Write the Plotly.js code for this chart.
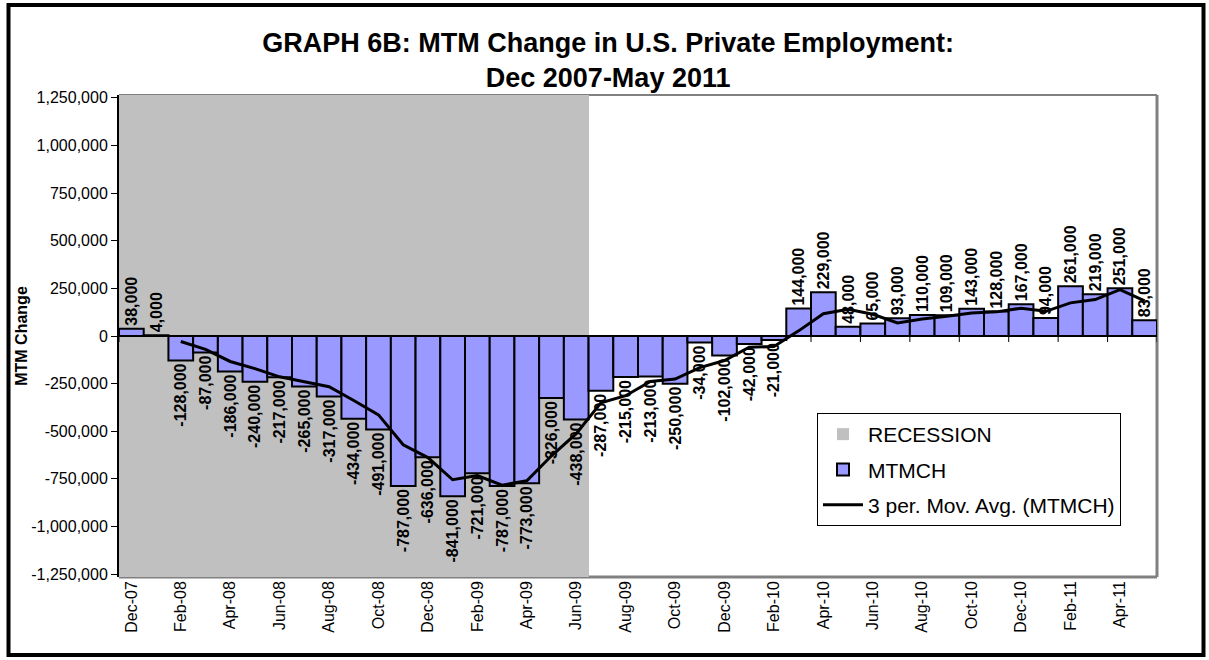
<!DOCTYPE html>
<html>
<head>
<meta charset="utf-8">
<script src="https://cdn.plot.ly/plotly-3.0.1.min.js"></script>
<style>
  html, body { margin: 0; padding: 0; background: #ffffff; }
  #chart { width: 1209px; height: 660px; }
</style>
</head>
<body>
<div id="chart"></div>
<script>
const categories = [
  'Dec-07',
  'Jan-08','Feb-08','Mar-08','Apr-08','May-08','Jun-08','Jul-08','Aug-08','Sep-08','Oct-08','Nov-08','Dec-08',
  'Jan-09','Feb-09','Mar-09','Apr-09','May-09','Jun-09','Jul-09','Aug-09','Sep-09','Oct-09','Nov-09','Dec-09',
  'Jan-10','Feb-10','Mar-10','Apr-10','May-10','Jun-10','Jul-10','Aug-10','Sep-10','Oct-10','Nov-10','Dec-10',
  'Jan-11','Feb-11','Mar-11','Apr-11','May-11'
];

const mtmch = [
  38000,
  4000, -128000, -87000, -186000, -240000, -217000, -265000, -317000, -434000, -491000, -787000, -636000,
  -841000, -721000, -787000, -773000, -326000, -438000, -287000, -215000, -213000, -250000, -34000, -102000,
  -42000, -21000, 144000, 229000, 48000, 65000, 93000, 110000, 109000, 143000, 128000, 167000,
  94000, 261000, 219000, 251000, 83000
];

const movAvg = [
  null,
  null, -28667, -70333, -133667, -171000, -214333, -240667, -266333, -338667, -414000, -570667, -638000,
  -754667, -732667, -783000, -760333, -628667, -512333, -350333, -313333, -238333, -226000, -165667, -128667,
  -59333, -55000, 27000, 117333, 140333, 114000, 68667, 89333, 104000, 120667, 126667, 146000,
  129667, 174000, 191333, 243667, 184333
];

const recession = [
  1,
  1, 1, 1, 1, 1, 1, 1, 1, 1, 1, 1, 1,
  1, 1, 1, 1, 1, 1, 0, 0, 0, 0, 0, 0,
  0, 0, 0, 0, 0, 0, 0, 0, 0, 0, 0, 0,
  0, 0, 0, 0, 0
];

const xTickLabels = [
  'Dec-07','Feb-08','Apr-08','Jun-08','Aug-08','Oct-08','Dec-08','Feb-09','Apr-09','Jun-09','Aug-09',
  'Oct-09','Dec-09','Feb-10','Apr-10','Jun-10','Aug-10','Oct-10','Dec-10','Feb-11','Apr-11'
];

const yTickVals = [-1250000, -1000000, -750000, -500000, -250000, 0, 250000, 500000, 750000, 1000000, 1250000];
const yTickLabels = ['-1,250,000','-1,000,000','-750,000','-500,000','-250,000','0','250,000','500,000','750,000','1,000,000','1,250,000'];

const FONT = 'Arial, "Liberation Sans", sans-serif';

// plot area geometry in pixels
const W = 1209, H = 660;
const L = 119, R = 1157, T = 95, B = 577;
const px2x = p => (p - L) / (R - L);
const px2y = p => (B - p) / (B - T);

const barLabels = mtmch.map(v => v.toLocaleString('en-US'));

const traces = [
  {
    type: 'bar',
    name: 'RECESSION',
    legendgroup: 'g1',
    x: categories,
    y: recession,
    yaxis: 'y',
    width: 1,
    marker: { color: '#C0C0C0', line: { width: 0 } },
    hoverinfo: 'skip'
  },
  {
    type: 'bar',
    name: 'MTMCH',
    legendgroup: 'g2',
    x: categories,
    y: mtmch,
    yaxis: 'y2',
    width: 1,
    marker: { color: '#9999FF', line: { color: '#000000', width: 2 } },
    text: barLabels,
    textposition: 'outside',
    textangle: -90,
    constraintext: 'none',
    cliponaxis: false,
    textfont: { family: FONT, size: 16, color: '#000000', weight: 'bold' }
  },
  {
    type: 'scatter',
    mode: 'lines',
    name: '3 per. Mov. Avg. (MTMCH)',
    legendgroup: 'g3',
    x: categories,
    y: movAvg,
    yaxis: 'y2',
    line: { color: '#000000', width: 3 },
    connectgaps: false
  }
];

const shapes = [];
// outer black frame
shapes.push({
  type: 'rect', xref: 'paper', yref: 'paper',
  x0: px2x(8.5), x1: px2x(1203.5), y0: px2y(655), y1: px2y(5),
  line: { color: '#000000', width: 4 }, fillcolor: 'rgba(0,0,0,0)', layer: 'below'
});
// plot area border (gray)
shapes.push({ type: 'line', xref: 'paper', yref: 'paper', x0: 0, x1: 1, y0: 1, y1: 1,
  line: { color: '#808080', width: 2 }, layer: 'below' });
shapes.push({ type: 'line', xref: 'paper', yref: 'paper', x0: 1, x1: 1, y0: 0, y1: 1,
  line: { color: '#808080', width: 3 }, layer: 'below' });
shapes.push({ type: 'line', xref: 'paper', yref: 'paper', x0: 0, x1: 1, y0: 0, y1: 0,
  line: { color: '#808080', width: 3 }, layer: 'below' });
// category axis line at zero
shapes.push({ type: 'line', xref: 'paper', yref: 'y2', x0: 0, x1: 1, y0: 0, y1: 0,
  line: { color: '#000000', width: 2 }, layer: 'above' });
// tick marks at category boundaries every 2 categories
for (let k = 0; k <= categories.length; k += 2) {
  shapes.push({
    type: 'line', xref: 'x', yref: 'y2',
    x0: k - 0.5, x1: k - 0.5,
    ysizemode: 'pixel', yanchor: 0, y0: 0, y1: -6,
    line: { color: '#000000', width: 1 }, layer: 'above'
  });
}

const layout = {
  width: W, height: H,
  margin: { l: L, r: W - R, t: T, b: H - B, pad: 0 },
  paper_bgcolor: '#ffffff',
  plot_bgcolor: '#ffffff',
  font: { family: FONT, color: '#000000' },
  barmode: 'overlay',
  bargap: 0,
  showlegend: true,
  title: {
    text: 'GRAPH 6B: MTM Change in U.S. Private Employment:<br>Dec 2007-May 2011',
    font: { family: FONT, size: 27, color: '#000000', weight: 'bold' },
    xref: 'container', x: 0.503, xanchor: 'center',
    yref: 'container', y: 1 - 52 / H, yanchor: 'top'
  },
  xaxis: {
    type: 'category',
    categoryorder: 'array',
    categoryarray: categories,
    range: [-0.5, categories.length - 0.5],
    tickmode: 'array',
    tickvals: xTickLabels,
    ticktext: xTickLabels,
    tickangle: -90,
    ticks: '',
    ticklen: 0,
    showline: false,
    showgrid: false,
    zeroline: false,
    tickfont: { family: FONT, size: 16, color: '#000000' },
    fixedrange: true
  },
  yaxis: {
    range: [0, 1],
    visible: false,
    showgrid: false,
    zeroline: false,
    fixedrange: true
  },
  yaxis2: {
    overlaying: 'y',
    side: 'left',
    anchor: 'x',
    range: [-1265000, 1265000],
    tickmode: 'array',
    tickvals: yTickVals,
    ticktext: yTickLabels,
    ticks: 'outside',
    ticklen: 6,
    tickwidth: 1,
    tickcolor: '#000000',
    showline: true,
    linecolor: '#000000',
    linewidth: 2,
    showgrid: false,
    zeroline: false,
    tickfont: { family: FONT, size: 16, color: '#000000' },
    title: {
      text: 'MTM Change',
      font: { family: FONT, size: 16, color: '#000000', weight: 'bold' },
      standoff: 0
    },
    automargin: false,
    fixedrange: true
  },
  legend: {
    x: px2x(817), y: px2y(413), xanchor: 'left', yanchor: 'top',
    bgcolor: '#ffffff', bordercolor: '#000000', borderwidth: 1,
    font: { family: FONT, size: 21, color: '#000000' },
    itemwidth: 40,
    traceorder: 'grouped',
    tracegroupgap: 5
  },
  shapes: shapes
};

Plotly.newPlot('chart', traces, layout, { staticPlot: true, displayModeBar: false });
</script>
</body>
</html>
